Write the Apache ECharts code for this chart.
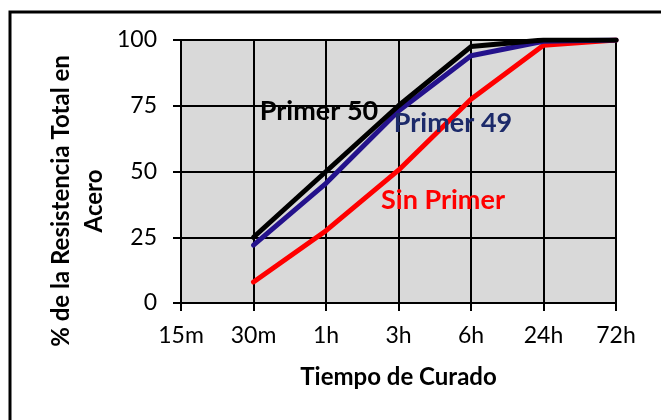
<!DOCTYPE html>
<html>
<head>
<meta charset="utf-8">
<script src="https://cdn.jsdelivr.net/npm/echarts@6/dist/echarts.min.js"></script>
<style>
  html, body { margin: 0; padding: 0; background: #ffffff; }
  #chart { width: 661px; height: 420px; }
</style>
</head>
<body>
<div id="chart"></div>
<script>
// Curing time categories (x axis)
const categories = ['15m', '30m', '1h', '3h', '6h', '24h', '72h'];

// % of total strength on steel for each curing time
const primer50 = [null, 25, 50, 75, 97.5, 100, 100];
const primer49 = [null, 22, 45.5, 73, 94, 99.5, 100];
const sinPrimer = [null, 8, 27.5, 50.5, 77.5, 98, 100];

const yTicks = [0, 25, 50, 75, 100];

const FONT = 'Lato';

const chart = echarts.init(document.getElementById('chart'), null, { renderer: 'canvas' });

function lineSeries(name, data, color) {
  return {
    name: name,
    type: 'line',
    data: data,
    showSymbol: false,
    symbol: 'none',
    connectNulls: false,
    lineStyle: { color: color, width: 5, cap: 'round', join: 'round' },
    itemStyle: { color: color },
    z: 3
  };
}

chart.setOption({
  animation: false,
  backgroundColor: '#ffffff',
  grid: {
    left: 181, top: 40, width: 435, height: 263,
    show: true, backgroundColor: '#d9d9d9', borderWidth: 0
  },
  xAxis: {
    type: 'category',
    data: categories,
    boundaryGap: false,
    axisLine: { show: true, lineStyle: { color: '#000', width: 2 } },
    axisTick: { show: true, inside: false, length: 8, lineStyle: { color: '#000', width: 2 } },
    axisLabel: { color: '#000', fontFamily: FONT, fontSize: 23, margin: 21 },
    splitLine: { show: true, lineStyle: { color: '#000', width: 2 } },
    name: 'Tiempo de Curado',
    nameLocation: 'middle',
    nameGap: 62,
    nameTextStyle: { color: '#000', fontFamily: FONT, fontSize: 24, fontWeight: 'bold' }
  },
  yAxis: {
    type: 'value',
    min: 0, max: 100, interval: 25,
    axisLine: { show: true, lineStyle: { color: '#000', width: 2 } },
    axisTick: { show: true, inside: false, length: 8, lineStyle: { color: '#000', width: 2 } },
    axisLabel: {
      color: '#000', fontFamily: FONT, fontSize: 23, margin: 24,
      customValues: yTicks
    },
    splitLine: { show: true, lineStyle: { color: '#000', width: 2 } }
  },
  series: [
    lineSeries('Sin Primer', sinPrimer, '#ff0000'),
    lineSeries('Primer 49', primer49, '#24128c'),
    lineSeries('Primer 50', primer50, '#000000')
  ],
  graphic: [
    {
      type: 'rect', silent: true, z: 10,
      shape: { x: 10, y: 12, width: 700, height: 460 },
      style: { fill: 'none', stroke: '#000', lineWidth: 3 }
    },
    {
      type: 'text', z: 10, x: 78, y: 201, rotation: Math.PI / 2,
      style: {
        text: '% de la Resistencia Total en\nAcero',
        fontFamily: FONT, fontSize: 24, fontWeight: 'bold', fill: '#000',
        align: 'center', verticalAlign: 'middle', lineHeight: 33
      }
    },
    {
      type: 'text', z: 10, x: 319, y: 111,
      style: {
        text: 'Primer 50', fontFamily: FONT, fontSize: 27, fontWeight: 'bold',
        fill: '#000', align: 'center', verticalAlign: 'middle'
      }
    },
    {
      type: 'text', z: 10, x: 453, y: 123,
      style: {
        text: 'Primer 49', fontFamily: FONT, fontSize: 27, fontWeight: 'bold',
        fill: '#1c2a6a', align: 'center', verticalAlign: 'middle'
      }
    },
    {
      type: 'text', z: 10, x: 443, y: 200,
      style: {
        text: 'Sin Primer', fontFamily: FONT, fontSize: 27, fontWeight: 'bold',
        fill: '#ff0000', align: 'center', verticalAlign: 'middle'
      }
    }
  ]
});
</script>
</body>
</html>
